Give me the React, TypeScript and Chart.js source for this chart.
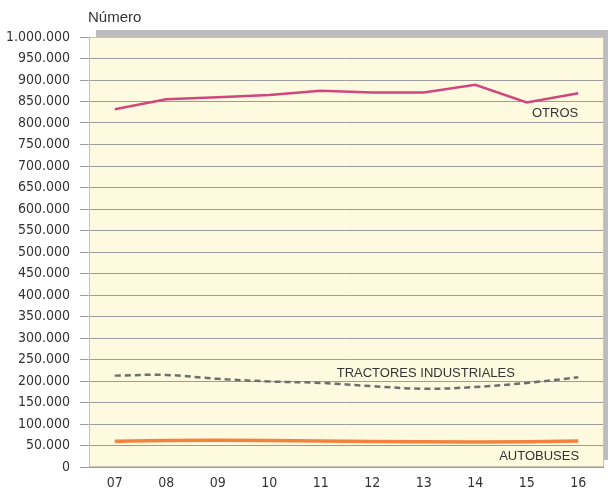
import React, { useEffect, useRef } from "react";
import { Chart, registerables } from "chart.js";

Chart.register(...registerables);

const categories = ["07", "08", "09", "10", "11", "12", "13", "14", "15", "16"];
const otros = [832000, 855000, 860000, 865000, 875000, 871000, 871000, 889000, 848000, 869000];
const tractores = [212500, 214000, 205000, 199000, 195500, 188000, 182000, 186000, 195500, 208500];
const autobuses = [60000, 61500, 62000, 61500, 60500, 59500, 58500, 58000, 58500, 60500];
const seriesLabels = [
  { text: "OTROS", index: 8.55, value: 823000 },
  { text: "TRACTORES INDUSTRIALES", index: 6.04, value: 218000 },
  { text: "AUTOBUSES", index: 8.24, value: 25500 },
];
const yTitle = "Número";

const fmt = (v: number) => {
  const s = Math.round(v).toString();
  return s.replace(/\B(?=(\d{3})+(?!\d))/g, ".");
};

const tickFont = "'DejaVu Sans Condensed', 'Liberation Sans Narrow', sans-serif";

const bgPlugin = {
  id: "bgPlugin",
  beforeDraw(chart: any) {
    const { ctx, chartArea } = chart;
    const { left, top, right, bottom } = chartArea;
    ctx.save();
    ctx.fillStyle = "#bdbdbf";
    ctx.fillRect(left + 7, top - 7, chart.width - left - 7, bottom - top);
    ctx.fillStyle = "#fefadf";
    ctx.fillRect(left, top, right - left, bottom - top);
    ctx.restore();
  },
  afterDraw(chart: any) {
    const { ctx, chartArea, scales } = chart;
    const { left, top, right, bottom } = chartArea;
    ctx.save();
    ctx.strokeStyle = "#c9c6ad";
    ctx.lineWidth = 1;
    ctx.strokeRect(left + 0.5, top + 0.5, right - left - 1, bottom - top - 1);
    ctx.fillStyle = "#333333";
    ctx.font = "15px 'Liberation Sans', Arial, sans-serif";
    ctx.textAlign = "left";
    ctx.textBaseline = "middle";
    ctx.fillText(yTitle, left - 1, 18);
    ctx.font = "13px 'Liberation Sans', Arial, sans-serif";
    ctx.textAlign = "center";
    for (const l of seriesLabels) {
      ctx.fillText(l.text, scales.x.getPixelForValue(l.index), scales.y.getPixelForValue(l.value));
    }
    ctx.restore();
  },
};

export default function App() {
  const ref = useRef<HTMLCanvasElement>(null);
  useEffect(() => {
    document.body.style.margin = "0";
    const chart = new Chart(ref.current!, {
      type: "line",
      data: {
        labels: categories,
        datasets: [
          {
            label: "OTROS",
            data: otros,
            borderColor: "#d0467f",
            borderWidth: 2.5,
            pointRadius: 0,
            tension: 0,
            fill: false,
          },
          {
            label: "TRACTORES INDUSTRIALES",
            data: tractores,
            borderColor: "#6e6e6e",
            borderWidth: 2.5,
            borderDash: [6, 4],
            pointRadius: 0,
            tension: 0.4,
            fill: false,
          },
          {
            label: "AUTOBUSES",
            data: autobuses,
            borderColor: "#f4823d",
            borderWidth: 3.5,
            pointRadius: 0,
            tension: 0,
            fill: false,
          },
        ],
      },
      options: {
        animation: false,
        responsive: true,
        maintainAspectRatio: false,
        layout: { padding: { left: 0, right: 4, top: 37, bottom: 0 } },
        plugins: { legend: { display: false }, tooltip: { enabled: false }, title: { display: false } },
        scales: {
          x: {
            offset: true,
            grid: { display: false, drawTicks: false },
            border: { display: false },
            ticks: {
              color: "#333333",
              padding: 8,
              font: { family: tickFont, size: 14 },
            },
            afterFit(scale: any) {
              scale.height = 25;
            },
          },
          y: {
            min: 0,
            max: 1000000,
            ticks: {
              stepSize: 50000,
              color: "#333333",
              padding: 10,
              font: { family: tickFont, size: 14 },
              callback: (v: any) => fmt(Number(v)),
            },
            grid: { color: "#9c9c9c", lineWidth: 1, tickLength: 9 },
            border: { display: false },
            afterFit(scale: any) {
              scale.width = 89;
            },
          },
        },
      },
      plugins: [bgPlugin],
    });
    return () => chart.destroy();
  }, []);
  return (
    <div style={{ width: 608, height: 492, position: "relative" }}>
      <canvas ref={ref} />
    </div>
  );
}
